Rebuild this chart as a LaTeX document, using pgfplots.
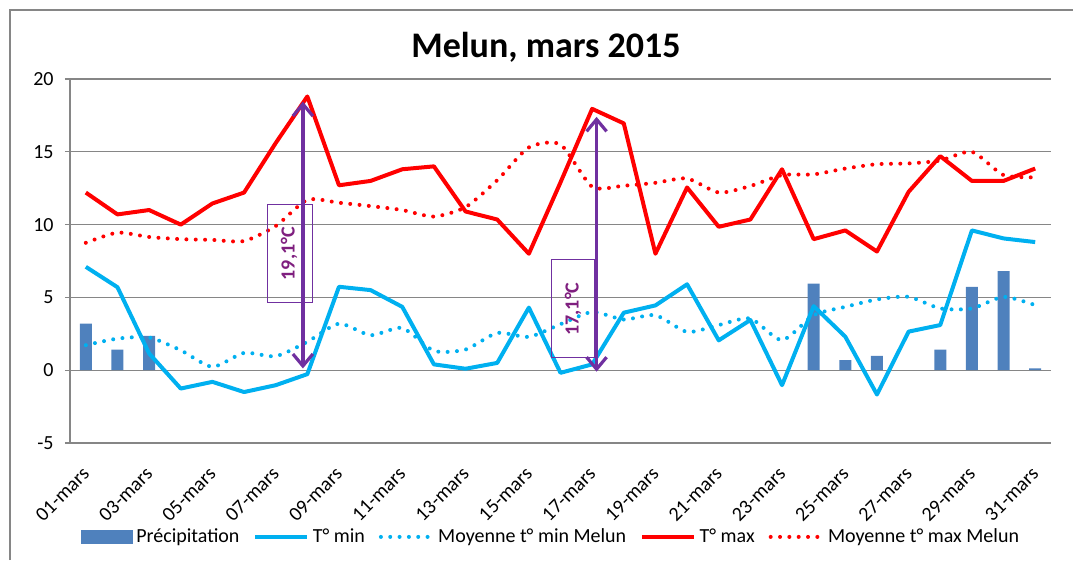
\documentclass[border=0pt]{standalone}
\usepackage{pgfplots}
\pgfplotsset{compat=1.18}
\usepackage{pgfplotstable}
\usepackage{fontspec}
\setmainfont{Carlito}
\usetikzlibrary{arrows.meta}
\definecolor{barblue}{HTML}{4F81BD}
\definecolor{tmincol}{HTML}{00B0F0}
\definecolor{tmaxcol}{HTML}{FF0000}
\definecolor{gridgray}{HTML}{868686}
\definecolor{arrowpurple}{HTML}{7030A0}
\definecolor{textpurple}{HTML}{7F1F7F}
\pgfplotsset{
  lineleg/.style={legend image code/.code={\draw[##1] (0pt,0pt) -- (39pt,0pt);}},
  barleg/.style={legend image code/.code={\fill[barblue] (0pt,-5.25pt) rectangle (39pt,5.25pt);}},
}

\pgfplotstableread{
day tmax tmin moymin moymax
1 12.2 7.1 1.72 8.75
2 10.7 5.7 2.17 9.45
3 11.0 1.15 2.25 9.15
4 10.0 -1.26 1.37 9.0
5 11.45 -0.8 0.23 8.95
6 12.2 -1.5 1.19 8.87
7 15.6 -1.03 0.96 9.9
8 18.8 -0.27 1.95 11.7
9 12.7 5.73 3.2 11.5
10 13.0 5.5 2.4 11.27
11 13.8 4.35 2.9 11.0
12 14.0 0.4 1.33 10.55
13 10.9 0.1 1.42 11.2
14 10.35 0.5 2.56 13.05
15 8.0 4.3 2.29 15.3
16 12.9 -0.18 3.16 15.5
17 17.95 0.4 4.0 12.6
18 16.95 3.95 3.48 12.67
19 8.0 4.45 3.78 12.87
20 12.55 5.9 2.63 13.17
21 9.85 2.05 3.1 12.2
22 10.35 3.45 3.55 12.65
23 13.8 -1.03 2.06 13.4
24 9.0 4.4 3.78 13.45
25 9.6 2.3 4.35 13.85
26 8.15 -1.67 4.86 14.15
27 12.25 2.65 5.04 14.2
28 14.7 3.1 4.24 14.4
29 13.0 9.6 4.24 15.0
30 13.0 9.05 5.04 13.4
31 13.85 8.8 4.47 13.25
}\temps

\pgfplotstableread{
day prec
1 3.2
2 1.42
3 2.35
24 5.95
25 0.69
26 0.98
28 1.42
29 5.73
30 6.8
31 0.12
}\prec

\begin{document}
\begin{tikzpicture}
\useasboundingbox (-52.5pt,-87.75pt) rectangle (752.25pt,332.25pt);
% chart frame
\draw[gridgray, line width=1pt] (-45pt,-87.75pt) -- (-45pt,324.75pt) -- (752.25pt,324.75pt);
% zero axis with ticks (its bottom edge sits at y=0 of the main axis)
\begin{axis}[
  at={(0,54.6pt)}, anchor=south west,
  scale only axis, width=735.75pt, height=218.4pt,
  xmin=0.5, xmax=31.5, ymin=0, ymax=20,
  axis x line*=bottom, hide y axis,
  x axis line style={-, gridgray, line width=1pt},
  xtick=\empty, minor xtick={0.5,1.5,...,31.5},
  xtick align=outside, minor tick length=4.5pt,
  minor x tick style={gridgray, line width=1pt},
]
\addplot[draw=none] coordinates {(1,1)};
\end{axis}
\begin{axis}[
  at={(0,0)}, anchor=south west,
  scale only axis, width=735.75pt, height=273pt,
  xmin=0.5, xmax=31.5, ymin=-5, ymax=20,
  axis x line*=bottom, axis y line*=left,
  axis line style={-, gridgray, line width=1pt},
  ytick={-5,0,5,10,15,20},
  ymajorgrids, grid style={gridgray, line width=1pt},
  ytick align=outside, major tick length=3.75pt,
  ytick style={gridgray, line width=1pt},
  xtick={1,3,...,31},
  xticklabels={01-mars,03-mars,05-mars,07-mars,09-mars,11-mars,13-mars,15-mars,17-mars,19-mars,21-mars,23-mars,25-mars,27-mars,29-mars,31-mars},
  xtick style={draw=none},
  /pgf/number format/assume math mode=true,
  tick label style={font=\fontsize{15}{18}\selectfont, black},
  yticklabel style={xshift=-5pt},
  xticklabel style={yshift=-17pt, xshift=-3.5pt, rotate=45, anchor=north east, inner sep=0pt},
  legend columns=5,
  legend style={at={(0.4903,-0.258)}, anchor=center, draw=none, fill=none,
    font=\fontsize{15}{18}\selectfont, nodes={inner sep=1.5pt},
    /tikz/every odd column/.append style={column sep=1pt},
    /tikz/every even column/.append style={column sep=9pt}},
  legend cell align=left,
]
\addplot[ybar, bar width=9pt, fill=barblue, draw=none, barleg]
  table[x=day, y=prec] {\prec};
\addlegendentry{Précipitation}
\addplot[tmincol, line width=3pt, line join=round, lineleg]
  table[x=day, y=tmin] {\temps};
\addlegendentry{T° min}
\addplot[tmincol, line width=3pt, line cap=round, dash pattern=on 0pt off 7pt, smooth, tension=0.4, lineleg]
  table[x=day, y=moymin] {\temps};
\addlegendentry{Moyenne t° min Melun}
\addplot[tmaxcol, line width=3pt, line join=round, lineleg]
  table[x=day, y=tmax] {\temps};
\addlegendentry{T° max}
\addplot[tmaxcol, line width=3pt, line cap=round, dash pattern=on 0pt off 7pt, smooth, tension=0.4, lineleg]
  table[x=day, y=moymax] {\temps};
\addlegendentry{Moyenne t° max Melun}
% annotations
\draw[arrowpurple, line width=0.8pt] (axis cs:6.73,4.63) rectangle (axis cs:8.15,11.4);
\draw[arrowpurple, line width=0.8pt] (axis cs:15.71,0.85) rectangle (axis cs:17.09,7.6);
\node[rotate=90, text=textpurple, font=\bfseries\fontsize{15}{18}\selectfont] at (axis cs:7.42,8.0) {19,1°C};
\node[rotate=90, text=textpurple, font=\bfseries\fontsize{15}{18}\selectfont] at (axis cs:16.4,4.2) {17,1°C};
\draw[arrowpurple, line width=2.4pt,
  {Straight Barb[length=9pt,width=15pt]}-{Straight Barb[length=9pt,width=15pt]}]
  (axis cs:7.86,0.12) -- (axis cs:7.86,18.45);
\draw[arrowpurple, line width=2.4pt,
  {Straight Barb[length=9pt,width=15pt]}-{Straight Barb[length=9pt,width=15pt]}]
  (axis cs:17.14,-0.1) -- (axis cs:17.14,17.4);
\end{axis}
\node[font=\bfseries\fontsize{27}{32}\selectfont, anchor=base] at (357pt,288.75pt) {Melun, mars 2015};
\end{tikzpicture}
\end{document}
